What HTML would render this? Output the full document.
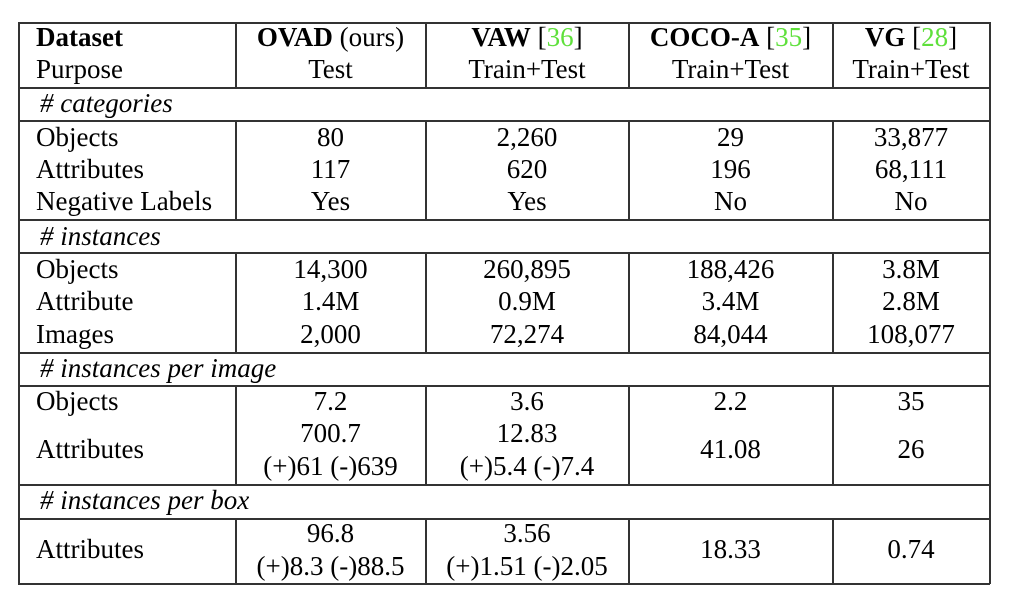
<!DOCTYPE html>
<html><head><meta charset="utf-8"><style>
body{margin:0;width:1012px;height:606px;background:#fff;position:relative;font-family:"Liberation Serif",serif;font-size:27px;color:#000;overflow:hidden}
.h{position:absolute;height:1.5px;background:#333}
.v{position:absolute;width:1.5px;background:#333}
.t{position:absolute;line-height:32px;height:32px;white-space:nowrap}
.c{text-align:center}
.g{color:#5fe03c}
i{font-style:italic}
</style></head><body>
<div class="h" style="left:18px;width:972px;top:22px"></div>
<div class="h" style="left:18px;width:972px;top:87px"></div>
<div class="h" style="left:18px;width:972px;top:120px"></div>
<div class="h" style="left:18px;width:972px;top:219px"></div>
<div class="h" style="left:18px;width:972px;top:252px"></div>
<div class="h" style="left:18px;width:972px;top:352px"></div>
<div class="h" style="left:18px;width:972px;top:385px"></div>
<div class="h" style="left:18px;width:972px;top:484px"></div>
<div class="h" style="left:18px;width:972px;top:518px"></div>
<div class="h" style="left:18px;width:972px;top:583px"></div>
<div class="v" style="left:18px;top:22px;height:562px"></div>
<div class="v" style="left:989px;top:22px;height:562px"></div>
<div class="v" style="left:235px;top:22px;height:65px"></div><div class="v" style="left:425px;top:22px;height:65px"></div><div class="v" style="left:628px;top:22px;height:65px"></div><div class="v" style="left:832px;top:22px;height:65px"></div>
<div class="v" style="left:235px;top:120px;height:99px"></div><div class="v" style="left:425px;top:120px;height:99px"></div><div class="v" style="left:628px;top:120px;height:99px"></div><div class="v" style="left:832px;top:120px;height:99px"></div>
<div class="v" style="left:235px;top:252px;height:100px"></div><div class="v" style="left:425px;top:252px;height:100px"></div><div class="v" style="left:628px;top:252px;height:100px"></div><div class="v" style="left:832px;top:252px;height:100px"></div>
<div class="v" style="left:235px;top:385px;height:99px"></div><div class="v" style="left:425px;top:385px;height:99px"></div><div class="v" style="left:628px;top:385px;height:99px"></div><div class="v" style="left:832px;top:385px;height:99px"></div>
<div class="v" style="left:235px;top:518px;height:65px"></div><div class="v" style="left:425px;top:518px;height:65px"></div><div class="v" style="left:628px;top:518px;height:65px"></div><div class="v" style="left:832px;top:518px;height:65px"></div>

<div class="t" style="left:36px;top:21px"><b>Dataset</b></div>
<div class="t" style="left:36px;top:53px">Purpose</div>
<div class="t c" style="left:236px;width:189px;top:21px"><b>OVAD</b> (ours)</div>
<div class="t c" style="left:236px;width:189px;top:53px">Test</div>
<div class="t c" style="left:426px;width:202px;top:21px"><b>VAW</b> [<span class="g">36</span>]</div>
<div class="t c" style="left:426px;width:202px;top:53px">Train+Test</div>
<div class="t c" style="left:629px;width:203px;top:21px"><b>COCO-A</b> [<span class="g">35</span>]</div>
<div class="t c" style="left:629px;width:203px;top:53px">Train+Test</div>
<div class="t c" style="left:833px;width:156px;top:21px"><b>VG</b> [<span class="g">28</span>]</div>
<div class="t c" style="left:833px;width:156px;top:53px">Train+Test</div>

<div class="t" style="left:40px;top:87px"><i># categories</i></div>
<div class="t" style="left:36px;top:121px">Objects</div>
<div class="t" style="left:36px;top:153px">Attributes</div>
<div class="t" style="left:36px;top:185px">Negative Labels</div>
<div class="t c" style="left:236px;width:189px;top:121px">80</div><div class="t c" style="left:426px;width:202px;top:121px">2,260</div><div class="t c" style="left:629px;width:203px;top:121px">29</div><div class="t c" style="left:833px;width:156px;top:121px">33,877</div>
<div class="t c" style="left:236px;width:189px;top:153px">117</div><div class="t c" style="left:426px;width:202px;top:153px">620</div><div class="t c" style="left:629px;width:203px;top:153px">196</div><div class="t c" style="left:833px;width:156px;top:153px">68,111</div>
<div class="t c" style="left:236px;width:189px;top:185px">Yes</div><div class="t c" style="left:426px;width:202px;top:185px">Yes</div><div class="t c" style="left:629px;width:203px;top:185px">No</div><div class="t c" style="left:833px;width:156px;top:185px">No</div>

<div class="t" style="left:40px;top:220px"><i># instances</i></div>
<div class="t" style="left:36px;top:253px">Objects</div>
<div class="t" style="left:36px;top:285px">Attribute</div>
<div class="t" style="left:36px;top:318px">Images</div>
<div class="t c" style="left:236px;width:189px;top:253px">14,300</div><div class="t c" style="left:426px;width:202px;top:253px">260,895</div><div class="t c" style="left:629px;width:203px;top:253px">188,426</div><div class="t c" style="left:833px;width:156px;top:253px">3.8M</div>
<div class="t c" style="left:236px;width:189px;top:285px">1.4M</div><div class="t c" style="left:426px;width:202px;top:285px">0.9M</div><div class="t c" style="left:629px;width:203px;top:285px">3.4M</div><div class="t c" style="left:833px;width:156px;top:285px">2.8M</div>
<div class="t c" style="left:236px;width:189px;top:318px">2,000</div><div class="t c" style="left:426px;width:202px;top:318px">72,274</div><div class="t c" style="left:629px;width:203px;top:318px">84,044</div><div class="t c" style="left:833px;width:156px;top:318px">108,077</div>

<div class="t" style="left:40px;top:352px"><i># instances per image</i></div>
<div class="t" style="left:36px;top:385px">Objects</div>
<div class="t" style="left:36px;top:433px">Attributes</div>
<div class="t c" style="left:236px;width:189px;top:385px">7.2</div><div class="t c" style="left:426px;width:202px;top:385px">3.6</div><div class="t c" style="left:629px;width:203px;top:385px">2.2</div><div class="t c" style="left:833px;width:156px;top:385px">35</div>
<div class="t c" style="left:236px;width:189px;top:417px">700.7</div><div class="t c" style="left:426px;width:202px;top:417px">12.83</div>
<div class="t c" style="left:236px;width:189px;top:450px">(+)61 (-)639</div><div class="t c" style="left:426px;width:202px;top:450px">(+)5.4 (-)7.4</div>
<div class="t c" style="left:629px;width:203px;top:433px">41.08</div><div class="t c" style="left:833px;width:156px;top:433px">26</div>

<div class="t" style="left:40px;top:484px"><i># instances per box</i></div>
<div class="t" style="left:36px;top:533px">Attributes</div>
<div class="t c" style="left:236px;width:189px;top:517px">96.8</div><div class="t c" style="left:426px;width:202px;top:517px">3.56</div>
<div class="t c" style="left:236px;width:189px;top:550px">(+)8.3 (-)88.5</div><div class="t c" style="left:426px;width:202px;top:550px">(+)1.51 (-)2.05</div>
<div class="t c" style="left:629px;width:203px;top:533px">18.33</div><div class="t c" style="left:833px;width:156px;top:533px">0.74</div>
</body></html>
